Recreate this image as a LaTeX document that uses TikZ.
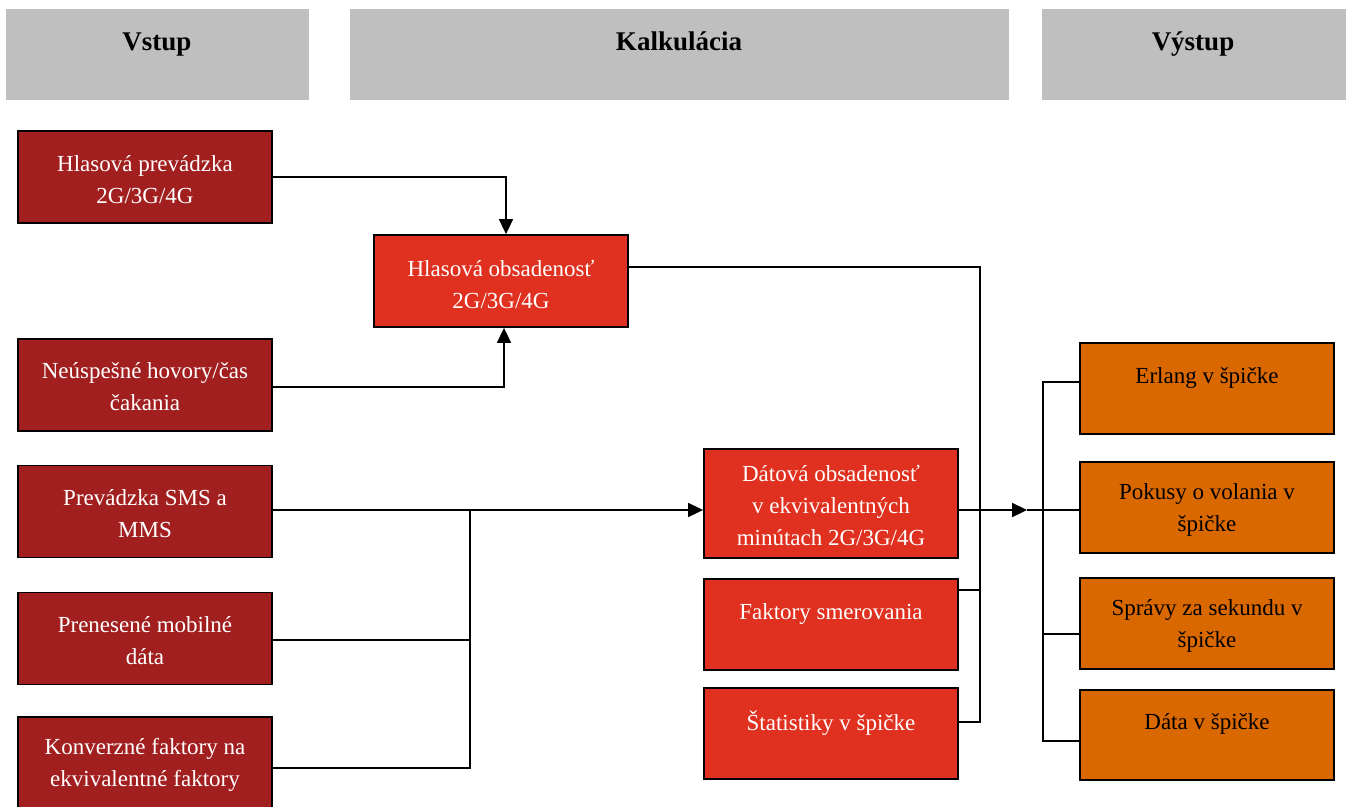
\documentclass[tikz,border=0pt]{standalone}
\usepackage{fontspec}
\setmainfont{Liberation Serif}
\usetikzlibrary{arrows.meta}
\definecolor{hdr}{HTML}{BFBFBF}
\definecolor{dred}{HTML}{A21F20}
\definecolor{mred}{HTML}{E0301F}
\definecolor{oran}{HTML}{D96800}
\tikzset{
  hbox/.style={fill=hdr, draw=none, minimum width=#1, minimum height=91pt, inner sep=0pt},
  htxt/.style={font=\fontsize{27}{30}\selectfont\bfseries, text=black, inner sep=0pt, anchor=base},
  box/.style={draw=black, line width=1.8pt, minimum width=254pt, minimum height=#1, inner sep=0pt},
  inbox/.style={box=92pt, fill=dred},
  calbox/.style={box=#1, fill=mred},
  outbox/.style={box=#1, fill=oran},
  wtxt/.style={font=\fontsize{23}{32}\selectfont, text=white, align=center, inner sep=0pt},
  btxt/.style={font=\fontsize{23}{32}\selectfont, text=black, align=center, inner sep=0pt},
  conn/.style={draw=black, line width=1.7pt},
  arr/.style={conn, -{Triangle[length=15pt,width=14pt]}}
}
\begin{document}
\begin{tikzpicture}[x=1pt,y=-1pt]
\useasboundingbox (0,0) rectangle (1346,806);
% headers
\node[hbox=303pt] (hin) at (157.5,54.5) {};
\node[htxt] (hint) at (157,50) {Vstup};
\node[hbox=659pt] (hcal) at (679.5,54.5) {};
\node[htxt] (hcalt) at (679,50) {Kalkulácia};
\node[hbox=304pt] (hout) at (1194,54.5) {};
\node[htxt] (houtt) at (1193,50) {Výstup};
% input boxes
\node[inbox] (b1) at (145,177) {};
\node[wtxt] (b1t) at (145,180) {Hlasová prevádzka\\2G/3G/4G};
\node[inbox] (b2) at (145,385) {};
\node[wtxt] (b2t) at (145,387) {Neúspešné hovory/čas\\čakania};
\node[inbox] (b3) at (145,511.5) {};
\node[wtxt] (b3t) at (145,514) {Prevádzka SMS a\\MMS};
\node[inbox] (b4) at (145,638.5) {};
\node[wtxt] (b4t) at (145,641) {Prenesené mobilné\\dáta};
\node[box=95pt, fill=dred] (b5) at (145,764.5) {};
\node[wtxt] (b5t) at (145,765) {Konverzné faktory na\\ekvivalentné faktory};
% calculation boxes
\node[calbox=92pt] (ho) at (501,281) {};
\node[wtxt] (hot) at (501,284) {Hlasová obsadenosť\\2G/3G/4G};
\node[calbox=109pt] (do) at (831,503.5) {};
\node[wtxt] (dot) at (831,505) {Dátová obsadenosť\\v ekvivalentných\\minútach 2G/3G/4G};
\node[calbox=91pt] (fs) at (831,624.5) {};
\node[wtxt] (fst) at (831,614) {Faktory smerovania};
\node[calbox=91pt] (st) at (831,733.5) {};
\node[wtxt] (stt) at (831,723) {Štatistiky v špičke};
% output boxes
\node[outbox=91pt] (er) at (1207,388.5) {};
\node[btxt] (ert) at (1207,378) {Erlang v špičke};
\node[outbox=91pt] (pk) at (1207,507.5) {};
\node[btxt] (pkt) at (1207,510) {Pokusy o volania v\\špičke};
\node[outbox=91pt] (sp) at (1207,623.5) {};
\node[btxt] (spt) at (1207,626) {Správy za sekundu v\\špičke};
\node[outbox=90pt] (dt) at (1207,735) {};
\node[btxt] (dtt) at (1207,724) {Dáta v špičke};
% junction coordinates
\coordinate (j1) at (470,510);
\coordinate (bus1) at (980,722);
\coordinate (tip) at (1027,510);
\coordinate (bus2top) at (1043,382);
\coordinate (bus2bot) at (1043,741);
% connectors
\draw[arr] (b1.east) -| ([xshift=5pt]ho.north);
\draw[arr] ([yshift=-2pt]b2.east) -| ([xshift=3pt]ho.south);
\draw[arr] ([yshift=1.5pt]b3.east) -- ([yshift=1.5pt]b3.east -| do.west);
\draw[conn] ([yshift=-1.5pt]b4.east) -| (j1);
\draw[conn] ([yshift=-3.5pt]b5.east) -| (j1);
\draw[conn] ([yshift=14pt]ho.east) -| (bus1) -- ([yshift=11.5pt]st.east);
\draw[conn] ([yshift=34.5pt]fs.east) -- ([yshift=34.5pt]fs.east -| bus1);
\draw[arr, line width=2.2pt] ([yshift=-6.5pt]do.east) -- (tip);
\draw[conn] (tip) -- (tip -| pk.west);
\draw[conn] ([yshift=6.5pt]er.west) -- (bus2top) -- (bus2bot) -- ([yshift=-6pt]dt.west);
\draw[conn] ([yshift=-10.5pt]sp.west) -- ([yshift=-10.5pt]sp.west -| bus2top);
\end{tikzpicture}
\end{document}
